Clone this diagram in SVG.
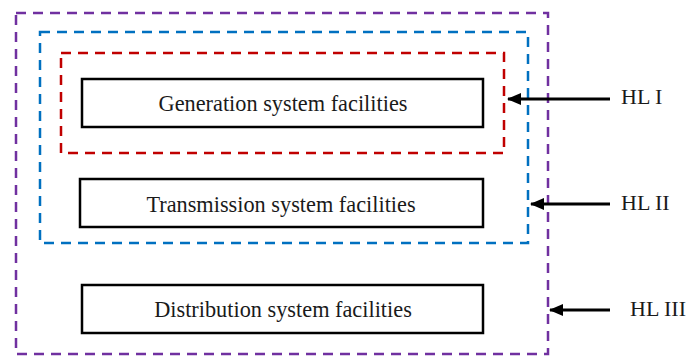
<svg xmlns="http://www.w3.org/2000/svg" width="689" height="356" viewBox="0 0 689 356">
<style>
.b{fill:none;stroke-width:2.5;stroke-dasharray:10 7}
.box{fill:#fff;stroke:#000;stroke-width:2.5}
.t{font-family:"Liberation Serif","Times New Roman",serif;font-size:22.3px;fill:#1a1a1a;text-anchor:middle}
.l{font-family:"Liberation Serif","Times New Roman",serif;font-size:22px;fill:#1a1a1a}
</style>
<defs>
<marker id="ah2" markerWidth="14" markerHeight="12" refX="13" refY="6" orient="auto" markerUnits="userSpaceOnUse"><path d="M0,0 L14,6 L0,12 z" fill="#000"/></marker>
</defs>
<g id="levels">
<rect id="hl3-boundary" class="b" x="16" y="13" width="532" height="341" stroke="#7030a0"/>
<rect id="hl2-boundary" class="b" x="40" y="32" width="488" height="211" stroke="#0070c0"/>
<rect id="hl1-boundary" class="b" x="61" y="53" width="443" height="100" stroke="#c00000"/>
</g>
<g id="generation"><rect class="box" x="82" y="79" width="401" height="48"/><text class="t" x="283" y="111">Generation system facilities</text></g>
<g id="transmission"><rect class="box" x="80" y="179" width="403" height="48"/><text class="t" x="281" y="212">Transmission  system facilities</text></g>
<g id="distribution"><rect class="box" x="82" y="285" width="401" height="48"/><text class="t" x="283" y="317">Distribution system facilities</text></g>
<g id="connectors">
<line x1="610" y1="99" x2="508" y2="99" stroke="#000" stroke-width="3" marker-end="url(#ah2)"/>
<line x1="610" y1="204" x2="531" y2="204" stroke="#000" stroke-width="3" marker-end="url(#ah2)"/>
<line x1="610" y1="310" x2="550" y2="310" stroke="#000" stroke-width="3" marker-end="url(#ah2)"/>
</g>
<g id="labels">
<text class="l" x="621" y="104">HL I</text>
<text class="l" x="621" y="210">HL II</text>
<text class="l" x="630" y="316">HL III</text>
</g>
</svg>
